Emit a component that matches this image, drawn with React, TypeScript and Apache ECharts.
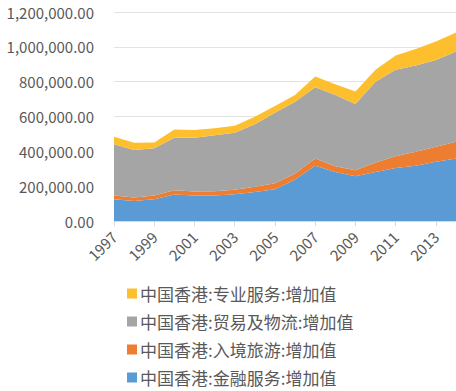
import React, { useEffect, useRef } from "react";
import * as echarts from "echarts";

const years = ["1997","1998","1999","2000","2001","2002","2003","2004","2005","2006","2007","2008","2009","2010","2011","2012","2013","2014"];
const finance = [125000,115000,125000,152000,146000,146000,154000,167000,182000,238000,317000,282000,257000,282000,305000,317000,340000,359000];
const tourism = [22000,20000,21000,24000,24000,25000,26000,29000,35000,35000,42000,33000,35000,54000,67000,80000,86000,96000];
const trade = [293000,272000,271000,302000,308000,322000,327000,359000,405000,412000,409000,409000,380000,464000,496000,496000,499000,518000];
const professional = [44000,42000,34000,48000,44000,39000,40000,44000,38000,39000,61000,61000,71000,68000,82000,94000,106000,110000];

const names = [
  "中国香港:金融服务:增加值",
  "中国香港:入境旅游:增加值",
  "中国香港:贸易及物流:增加值",
  "中国香港:专业服务:增加值",
];
const colors = ["#5b9bd5", "#ed7d31", "#a5a5a5", "#fdbf2d"];
const seriesData = [finance, tourism, trade, professional];

export default function App() {
  const ref = useRef<HTMLDivElement>(null);
  useEffect(() => {
    if (!ref.current) return;
    const chart = echarts.init(ref.current, undefined, { renderer: "svg" });
    const fmt = (v: number) =>
      v.toLocaleString("en-US", { minimumFractionDigits: 2, maximumFractionDigits: 2 });
    chart.setOption({
      animation: false,
      textStyle: { fontFamily: "'Noto Sans CJK SC', 'Noto Sans', sans-serif" },
      grid: { left: 114, right: 0, top: 12, bottom: 170, containLabel: false },
      legend: {
        orient: "vertical",
        left: 122,
        top: 280,
        height: 130,
        data: names.slice().reverse(),
        icon: "rect",
        itemWidth: 10,
        itemHeight: 10,
        itemGap: 11,
        textStyle: { fontSize: 17, color: "#595959", padding: [0, 0, 0, -2] },
      },
      xAxis: {
        type: "category",
        data: years,
        boundaryGap: false,
        axisLine: { lineStyle: { color: "#d9d9d9" } },
        axisTick: { show: true, interval: 1, length: 5, lineStyle: { color: "#d9d9d9" } },
        axisLabel: { interval: 1, rotate: 45, fontSize: 15, color: "#595959", margin: 13 },
      },
      yAxis: {
        type: "value",
        min: 0,
        max: 1200000,
        interval: 200000,
        axisLine: { show: false },
        axisTick: { show: false },
        splitLine: { lineStyle: { color: "#e3e3e3" } },
        axisLabel: { fontSize: 15, color: "#595959", margin: 20, formatter: fmt },
      },
      series: seriesData.map((d, i) => ({
        name: names[i],
        type: "line",
        stack: "total",
        data: d,
        symbol: "none",
        lineStyle: { width: 0 },
        areaStyle: { color: colors[i], opacity: 1 },
        itemStyle: { color: colors[i] },
      })),
    });
    return () => chart.dispose();
  }, []);
  return (
    <div
      ref={ref}
      style={{ position: "fixed", left: 0, top: 0, width: 456, height: 391, background: "#fff" }}
    />
  );
}
